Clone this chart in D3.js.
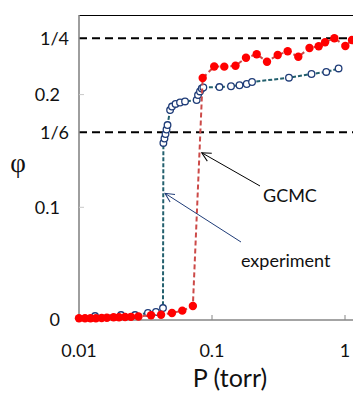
<!DOCTYPE html>
<html>
<head>
<meta charset="utf-8">
<script src="https://cdn.jsdelivr.net/npm/d3@7"></script>
<style>
    html, body { margin: 0; padding: 0; background: #fff; }
    svg { display: block; }
    text { font-family: Lato, "Open Sans", sans-serif; fill: #111; }
</style>
</head>
<body>
<div id="chart"></div>
<script>
// experiment (open circles)
var expP = [0.0132, 0.0207, 0.0264, 0.0330, 0.0379, 0.0428,
    0.0431, 0.0439, 0.0447, 0.0455, 0.0463,
    0.0484, 0.0500, 0.0532, 0.0575, 0.0627,
    0.0767, 0.0785, 0.0812, 0.0837, 0.0861,
    0.1138, 0.139, 0.161, 0.1824, 0.200,
    0.379, 0.560, 0.723, 0.895];
var expPhi = [0.0035, 0.0044, 0.0044, 0.0062, 0.0071, 0.0106,
    0.1571, 0.1610, 0.1650, 0.1690, 0.1730,
    0.1863, 0.1894, 0.1917, 0.1930, 0.1939,
    0.1952, 0.1996, 0.2028, 0.2054, 0.2063,
    0.2067, 0.2074, 0.2083, 0.2094, 0.2112,
    0.2150, 0.2183, 0.2201, 0.2232];

// GCMC (red dots)
var gcmcP = [0.0100, 0.0111, 0.0122, 0.0134, 0.0148, 0.0162, 0.0182, 0.0200,
    0.0222, 0.0246, 0.0280, 0.0348, 0.0414, 0.0500, 0.0598, 0.0718,
    0.0851, 0.1039, 0.1237, 0.1502, 0.1801, 0.2168, 0.2591, 0.3119,
    0.3707, 0.4455, 0.5408, 0.634, 0.708, 0.832, 1.006, 1.129];
var gcmcPhi = [0.0015, 0.0015, 0.0015, 0.0016, 0.0018, 0.0020, 0.0024, 0.0024,
    0.0027, 0.0028, 0.0031, 0.0042, 0.0047, 0.0062, 0.0083, 0.0124,
    0.2147, 0.2249, 0.2248, 0.2256, 0.2327, 0.2358, 0.2292, 0.2351,
    0.2384, 0.2336, 0.2413, 0.2429, 0.2464, 0.2500, 0.2431, 0.2484];

var xTicks = [0.01, 0.1, 1];
var xTickLabels = ['0.01', '0.1', '1'];
var yTicks = [0, 0.1, 0.2];
var yTickLabels = ['0', '0.1', '0.2'];
var refLines = [1 / 6, 1 / 4];
var refLabels = ['1/6', '1/4'];

// annotation arrows: [tailP, tailPhi, tipP, tipPhi]
var annotNames = ['GCMC', 'experiment'];
var annotArrows = [[0.2296, 0.1189, 0.0837, 0.1484], [0.1652, 0.0692, 0.0443, 0.1124]];
var annotText = [[0.2418, 0.1051], [0.1652, 0.0470]];

(function() {
    'use strict';

    var width = 353, height = 394;
    var margin = {top: 15, right: 0, bottom: 74, left: 79};

    var svg = d3.select('#chart')
                .append('svg')
                .attr('width', width)
                .attr('height', height);

    var x = d3.scaleLog()
        .domain([0.01, 1])
        .range([margin.left, 345]);

    var y = d3.scaleLinear()
        .domain([0, 0.25])
        .range([height - margin.bottom, 38.25]);

    var x0 = margin.left,
        x1 = width - margin.right,
        y0 = height - margin.bottom;

    // top border
    svg.append('line')
        .attr('x1', x0).attr('x2', x1)
        .attr('y1', margin.top + 0.5).attr('y2', margin.top + 0.5)
        .attr('stroke', '#000').attr('stroke-width', 1.2);

    // dashed reference lines
    svg.selectAll('.ref')
        .data(refLines)
        .enter().append('line')
        .attr('x1', x0).attr('x2', x1)
        .attr('y1', function(d) { return y(d); })
        .attr('y2', function(d) { return y(d); })
        .attr('stroke', '#000')
        .attr('stroke-width', 2)
        .attr('stroke-dasharray', '8,5');

    // axes lines
    svg.append('line')
        .attr('x1', x0).attr('x2', x0)
        .attr('y1', margin.top).attr('y2', y0)
        .attr('stroke', '#868686').attr('stroke-width', 1.6);
    svg.append('line')
        .attr('x1', x0).attr('x2', x1)
        .attr('y1', y0).attr('y2', y0)
        .attr('stroke', '#868686').attr('stroke-width', 1.6);

    // ticks (inside)
    svg.selectAll('.xtick')
        .data(xTicks.slice(1))
        .enter().append('line')
        .attr('x1', function(d) { return x(d); })
        .attr('x2', function(d) { return x(d); })
        .attr('y1', y0).attr('y2', y0 - 5)
        .attr('stroke', '#868686').attr('stroke-width', 1);
    svg.selectAll('.ytick')
        .data(yTicks.slice(1))
        .enter().append('line')
        .attr('x1', x0).attr('x2', x0 + 5)
        .attr('y1', function(d) { return y(d); })
        .attr('y2', function(d) { return y(d); })
        .attr('stroke', '#c8c8c8').attr('stroke-width', 1);

    // tick labels
    svg.selectAll('.xlab')
        .data(xTicks)
        .enter().append('text')
        .attr('x', function(d) { return x(d); })
        .attr('y', 357)
        .attr('text-anchor', 'middle')
        .style('font-size', '18px')
        .text(function(d, i) { return xTickLabels[i]; });
    svg.selectAll('.ylab')
        .data(yTicks)
        .enter().append('text')
        .attr('x', 60)
        .attr('y', function(d) { return y(d); })
        .attr('dy', '0.36em')
        .attr('text-anchor', 'end')
        .style('font-size', '18px')
        .text(function(d, i) { return yTickLabels[i]; });
    svg.selectAll('.rlab')
        .data(refLines)
        .enter().append('text')
        .attr('x', 69)
        .attr('y', function(d) { return y(d); })
        .attr('dy', '0.36em')
        .attr('text-anchor', 'end')
        .style('font-size', '18px')
        .text(function(d, i) { return refLabels[i]; });

    // axis titles
    svg.append('text')
        .attr('x', 230).attr('y', 387)
        .attr('text-anchor', 'middle')
        .style('font-size', '25px')
        .text('P (torr)');
    svg.append('text')
        .attr('x', 18).attr('y', 172)
        .attr('text-anchor', 'middle')
        .style('font-family', '"Liberation Serif", serif')
        .style('font-size', '27px')
        .text('\u03c6');

    var expData = expP.map(function(p, i) { return [p, expPhi[i]]; });
    var gcmcData = gcmcP.map(function(p, i) { return [p, gcmcPhi[i]]; });

    var line = d3.line()
        .x(function(d) { return x(d[0]); })
        .y(function(d) { return y(d[1]); });

    // experiment
    svg.append('path')
        .datum(expData)
        .attr('d', line)
        .attr('fill', 'none')
        .attr('stroke', '#23606e')
        .attr('stroke-width', 2)
        .attr('stroke-dasharray', '4,2');
    svg.selectAll('.exp')
        .data(expData)
        .enter().append('circle')
        .attr('cx', function(d) { return x(d[0]); })
        .attr('cy', function(d) { return y(d[1]); })
        .attr('r', 3.3)
        .attr('fill', '#fff')
        .attr('stroke', '#1f3c78')
        .attr('stroke-width', 1.3);

    // GCMC
    svg.append('path')
        .datum(gcmcData)
        .attr('d', line)
        .attr('fill', 'none')
        .attr('stroke', '#cc4a48')
        .attr('stroke-width', 2)
        .attr('stroke-dasharray', '5,3');
    svg.selectAll('.gcmc')
        .data(gcmcData)
        .enter().append('circle')
        .attr('cx', function(d) { return x(d[0]); })
        .attr('cy', function(d) { return y(d[1]); })
        .attr('r', 4.2)
        .attr('fill', '#ff0000');

    // annotation arrows
    var arrowColors = ['#000', '#1f3c78'];
    var defs = svg.append('defs');
    arrowColors.forEach(function(c, i) {
        defs.append('marker')
            .attr('id', 'ah' + i)
            .attr('markerUnits', 'userSpaceOnUse')
            .attr('viewBox', '-1 -6 12 12')
            .attr('refX', 0).attr('refY', 0)
            .attr('markerWidth', 12).attr('markerHeight', 12)
            .attr('orient', 'auto')
            .append('path')
            .attr('d', 'M9,-4.5L0,0L9,4.5')
            .attr('fill', 'none')
            .attr('stroke', c)
            .attr('stroke-width', 1);
    });

    annotArrows.forEach(function(a, i) {
        svg.append('line')
            .attr('x1', x(a[2])).attr('y1', y(a[3]))
            .attr('x2', x(a[0])).attr('y2', y(a[1]))
            .attr('stroke', arrowColors[i])
            .attr('stroke-width', 1)
            .attr('marker-start', 'url(#ah' + i + ')');
        svg.append('text')
            .attr('x', x(annotText[i][0]))
            .attr('y', y(annotText[i][1]))
            .style('font-size', '18px')
            .text(annotNames[i]);
    });
})();
</script>
</body>
</html>
